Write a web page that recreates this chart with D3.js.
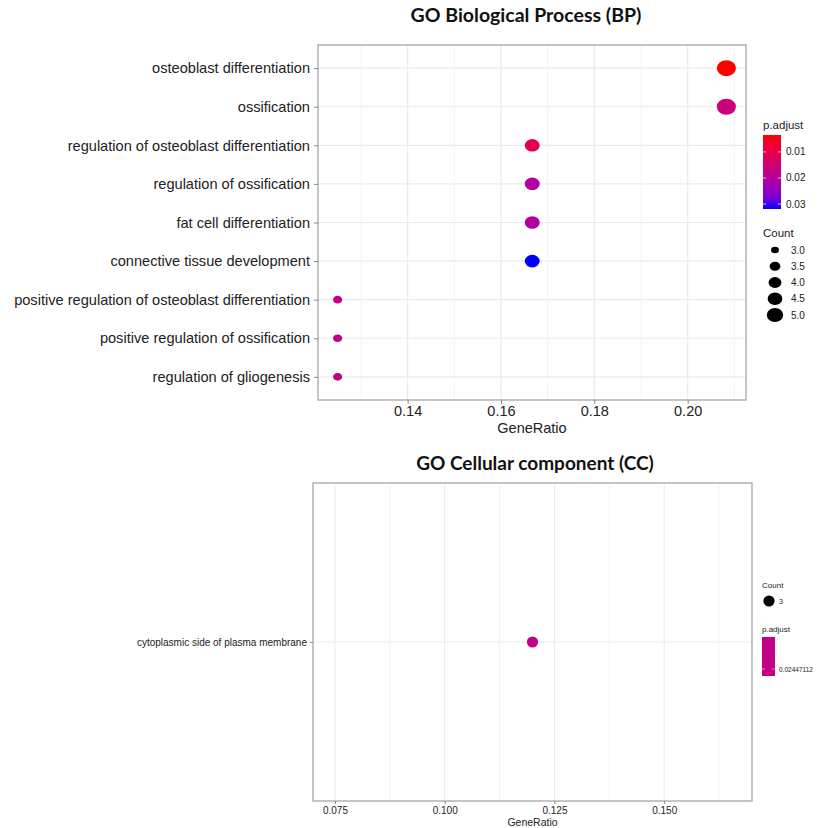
<!DOCTYPE html>
<html><head><meta charset="utf-8">
<script src="https://cdn.jsdelivr.net/npm/d3@7/dist/d3.min.js"></script>
<style>body{margin:0;background:#fff}svg{display:block}</style>
</head><body>
<svg id="c" width="821" height="828"></svg>
<script>
// ---- data ----
const bpTerms = ["osteoblast differentiation","ossification","regulation of osteoblast differentiation","regulation of ossification","fat cell differentiation","connective tissue development","positive regulation of osteoblast differentiation","positive regulation of ossification","regulation of gliogenesis"];
const bpGeneRatio = [0.2083,0.2083,0.1667,0.1667,0.1667,0.1667,0.125,0.125,0.125];
const bpCount = [5,5,4,4,4,4,3,3,3];
const bpPadj = [0.0035,0.0160,0.0100,0.0205,0.0205,0.0319,0.0175,0.0175,0.0180];
const bpXTicks = [0.14,0.16,0.18,0.20];
const bpPadjTicks = [0.01,0.02,0.03];
const countTicks = [3.0,3.5,4.0,4.5,5.0];

const ccTerms = ["cytoplasmic side of plasma membrane"];
const ccGeneRatio = [0.12];
const ccCount = [3];
const ccPadj = [0.02447112];
const ccXTicks = [0.075,0.100,0.125,0.150];

const svg = d3.select("#c");
const txt = "#222", gridC = "#ebebeb", borderC = "#a6a6a6";
const axFont = "'Liberation Sans', Arial, sans-serif";

// ---------- BP panel ----------
const P1 = {l:318, r:746, t:45, b:400};
const x1 = d3.scaleLinear().domain([0.1208,0.2125]).range([P1.l,P1.r]);
const y1 = d3.scalePoint().domain(bpTerms).range([P1.t,P1.b]).padding(0.6);
const pmin = d3.min(bpPadj), pmax = d3.max(bpPadj);
const col1 = d3.scaleLinear().domain([pmin,pmax]).range(["red","blue"]).interpolate(d3.interpolateLab);
const area = d3.scaleLinear().domain([3,5]).range([84,365]);
const wOf = c => Math.sqrt(area(c));

const g1 = svg.append("g");
const minor1 = [0.13,0.15,0.17,0.19,0.21];
g1.selectAll(".mn").data(minor1).join("line")
  .attr("x1",d=>x1(d)).attr("x2",d=>x1(d)).attr("y1",P1.t).attr("y2",P1.b)
  .attr("stroke","#f3f3f3").attr("stroke-width",1);
g1.selectAll(".mj").data(bpXTicks).join("line")
  .attr("x1",d=>x1(d)).attr("x2",d=>x1(d)).attr("y1",P1.t).attr("y2",P1.b)
  .attr("stroke",gridC).attr("stroke-width",1.2);
g1.selectAll(".hy").data(bpTerms).join("line")
  .attr("x1",P1.l).attr("x2",P1.r).attr("y1",d=>y1(d)).attr("y2",d=>y1(d))
  .attr("stroke",gridC).attr("stroke-width",1.2);
g1.selectAll(".pt").data(bpTerms).join("ellipse")
  .attr("cx",(d,i)=>x1(bpGeneRatio[i])).attr("cy",d=>y1(d))
  .attr("rx",(d,i)=>wOf(bpCount[i])/2).attr("ry",(d,i)=>wOf(bpCount[i])/2*0.84)
  .attr("fill",(d,i)=>col1(bpPadj[i]));
g1.append("rect").attr("x",P1.l).attr("y",P1.t).attr("width",P1.r-P1.l).attr("height",P1.b-P1.t)
  .attr("fill","none").attr("stroke",borderC).attr("stroke-width",1.3);
const ax1 = g1.append("g").attr("transform",`translate(0,${P1.b})`)
  .call(d3.axisBottom(x1).tickValues(bpXTicks).tickFormat(d3.format(".2f")).tickSize(4).tickPadding(2));
ax1.select(".domain").remove();
ax1.selectAll("line").attr("stroke","#888");
ax1.selectAll("text").attr("font-family",axFont).attr("font-size",14.5).attr("fill",txt);
const ay1 = g1.append("g").attr("transform",`translate(${P1.l},0)`)
  .call(d3.axisLeft(y1).tickSize(4).tickPadding(4));
ay1.select(".domain").remove();
ay1.selectAll("line").attr("stroke","#888");
ay1.selectAll("text").attr("font-family",axFont).attr("font-size",14.6).attr("fill",txt);
g1.append("text").attr("x",(P1.l+P1.r)/2).attr("y",433).attr("text-anchor","middle")
  .attr("font-family",axFont).attr("font-size",14.5).attr("fill",txt).text("GeneRatio");
svg.append("text").attr("x",526).attr("y",22).attr("text-anchor","middle")
  .attr("font-family","Lato, 'Open Sans', sans-serif").attr("font-weight","bold").attr("font-size",19.5)
  .attr("fill","#111").text("GO Biological Process (BP)");

// legend p.adjust
const L1 = {x:763, w:18, t:135, b:209};
const defs = svg.append("defs");
const grad = defs.append("linearGradient").attr("id","gp").attr("x1",0).attr("x2",0).attr("y1",0).attr("y2",1);
d3.range(0,1.0001,0.1).forEach(t=>grad.append("stop").attr("offset",t).attr("stop-color",col1(pmin+t*(pmax-pmin))));
svg.append("text").attr("x",L1.x).attr("y",129).attr("font-family",axFont).attr("font-size",11.5).attr("fill",txt).text("p.adjust");
svg.append("rect").attr("x",L1.x).attr("y",L1.t).attr("width",L1.w).attr("height",L1.b-L1.t).attr("fill","url(#gp)");
const ly = d3.scaleLinear().domain([pmin,pmax]).range([L1.t,L1.b]);
svg.selectAll(".lt").data(bpPadjTicks).join("g").each(function(d){
  const g=d3.select(this), yy=ly(d);
  g.append("line").attr("x1",L1.x).attr("x2",L1.x+3).attr("y1",yy).attr("y2",yy).attr("stroke","#fff").attr("stroke-opacity",0.7);
  g.append("line").attr("x1",L1.x+L1.w-3).attr("x2",L1.x+L1.w).attr("y1",yy).attr("y2",yy).attr("stroke","#fff").attr("stroke-opacity",0.7);
  g.append("text").attr("x",L1.x+L1.w+5).attr("y",yy+3.5).attr("font-family",axFont).attr("font-size",10).attr("fill",txt).text(d3.format(".2f")(d));
});
svg.append("text").attr("x",L1.x).attr("y",237).attr("font-family",axFont).attr("font-size",11.5).attr("fill",txt).text("Count");
const cy = d3.scalePoint().domain(countTicks).range([250,315]);
svg.selectAll(".lc").data(countTicks).join("g").each(function(d){
  const g=d3.select(this), w=wOf(d)*0.86;
  g.append("ellipse").attr("cx",775).attr("cy",cy(d)).attr("rx",w/2).attr("ry",w/2*0.84).attr("fill","#000");
  g.append("text").attr("x",791).attr("y",cy(d)+3.5).attr("font-family",axFont).attr("font-size",10).attr("fill",txt).text(d3.format(".1f")(d));
});

// ---------- CC panel ----------
const P2 = {l:313, r:752, t:483, b:801};
const x2 = d3.scaleLinear().domain([0.07,0.17]).range([P2.l,P2.r]);
const y2 = d3.scalePoint().domain(ccTerms).range([P2.t,P2.b]).padding(0.6);
const col2 = () => d3.interpolateLab("red","blue")(0.5);
const g2 = svg.append("g");
const minor2 = [0.0875,0.1125,0.1375,0.1625];
g2.selectAll(".mn").data(minor2).join("line")
  .attr("x1",d=>x2(d)).attr("x2",d=>x2(d)).attr("y1",P2.t).attr("y2",P2.b)
  .attr("stroke","#f3f3f3").attr("stroke-width",1);
g2.selectAll(".mj").data(ccXTicks).join("line")
  .attr("x1",d=>x2(d)).attr("x2",d=>x2(d)).attr("y1",P2.t).attr("y2",P2.b)
  .attr("stroke",gridC).attr("stroke-width",1);
g2.selectAll(".hy").data(ccTerms).join("line")
  .attr("x1",P2.l).attr("x2",P2.r).attr("y1",d=>y2(d)).attr("y2",d=>y2(d))
  .attr("stroke",gridC).attr("stroke-width",1);
g2.selectAll(".pt").data(ccTerms).join("circle")
  .attr("cx",(d,i)=>x2(ccGeneRatio[i])).attr("cy",d=>y2(d)).attr("r",5.6)
  .attr("fill",col2());
g2.append("rect").attr("x",P2.l).attr("y",P2.t).attr("width",P2.r-P2.l).attr("height",P2.b-P2.t)
  .attr("fill","none").attr("stroke",borderC).attr("stroke-width",1.3);
const ax2 = g2.append("g").attr("transform",`translate(0,${P2.b})`)
  .call(d3.axisBottom(x2).tickValues(ccXTicks).tickFormat(d3.format(".3f")).tickSize(3).tickPadding(3));
ax2.select(".domain").remove();
ax2.selectAll("line").attr("stroke","#888");
ax2.selectAll("text").attr("font-family",axFont).attr("font-size",10).attr("fill",txt);
const ay2 = g2.append("g").attr("transform",`translate(${P2.l},0)`)
  .call(d3.axisLeft(y2).tickSize(3).tickPadding(3));
ay2.select(".domain").remove();
ay2.selectAll("line").attr("stroke","#888");
ay2.selectAll("text").attr("font-family",axFont).attr("font-size",10).attr("fill",txt);
g2.append("text").attr("x",(P2.l+P2.r)/2).attr("y",826).attr("text-anchor","middle")
  .attr("font-family",axFont).attr("font-size",10.5).attr("fill",txt).text("GeneRatio");
svg.append("text").attr("x",535).attr("y",470).attr("text-anchor","middle")
  .attr("font-family","Lato, 'Open Sans', sans-serif").attr("font-weight","bold").attr("font-size",19)
  .attr("fill","#111").text("GO Cellular component (CC)");
svg.append("text").attr("x",762).attr("y",588).attr("font-family",axFont).attr("font-size",8).attr("fill",txt).text("Count");
svg.selectAll(".lc2").data(ccCount).join("g").each(function(d){
  const g=d3.select(this);
  g.append("circle").attr("cx",769).attr("cy",601).attr("r",5.6).attr("fill","#000");
  g.append("text").attr("x",779).attr("y",604).attr("font-family",axFont).attr("font-size",7).attr("fill",txt).text(d);
});
svg.append("text").attr("x",762).attr("y",632).attr("font-family",axFont).attr("font-size",8).attr("fill",txt).text("p.adjust");
svg.selectAll(".lp2").data(ccPadj).join("g").each(function(d){
  const g=d3.select(this);
  g.append("rect").attr("x",762).attr("y",637).attr("width",13).attr("height",39).attr("fill",col2());
  g.append("line").attr("x1",762).attr("x2",765).attr("y1",669).attr("y2",669).attr("stroke","#fff").attr("stroke-opacity",0.6);
  g.append("line").attr("x1",772).attr("x2",775).attr("y1",669).attr("y2",669).attr("stroke","#fff").attr("stroke-opacity",0.6);
  g.append("text").attr("x",779).attr("y",671.5).attr("font-family",axFont).attr("font-size",6.5).attr("fill",txt).text(d);
});
</script>
</body></html>
